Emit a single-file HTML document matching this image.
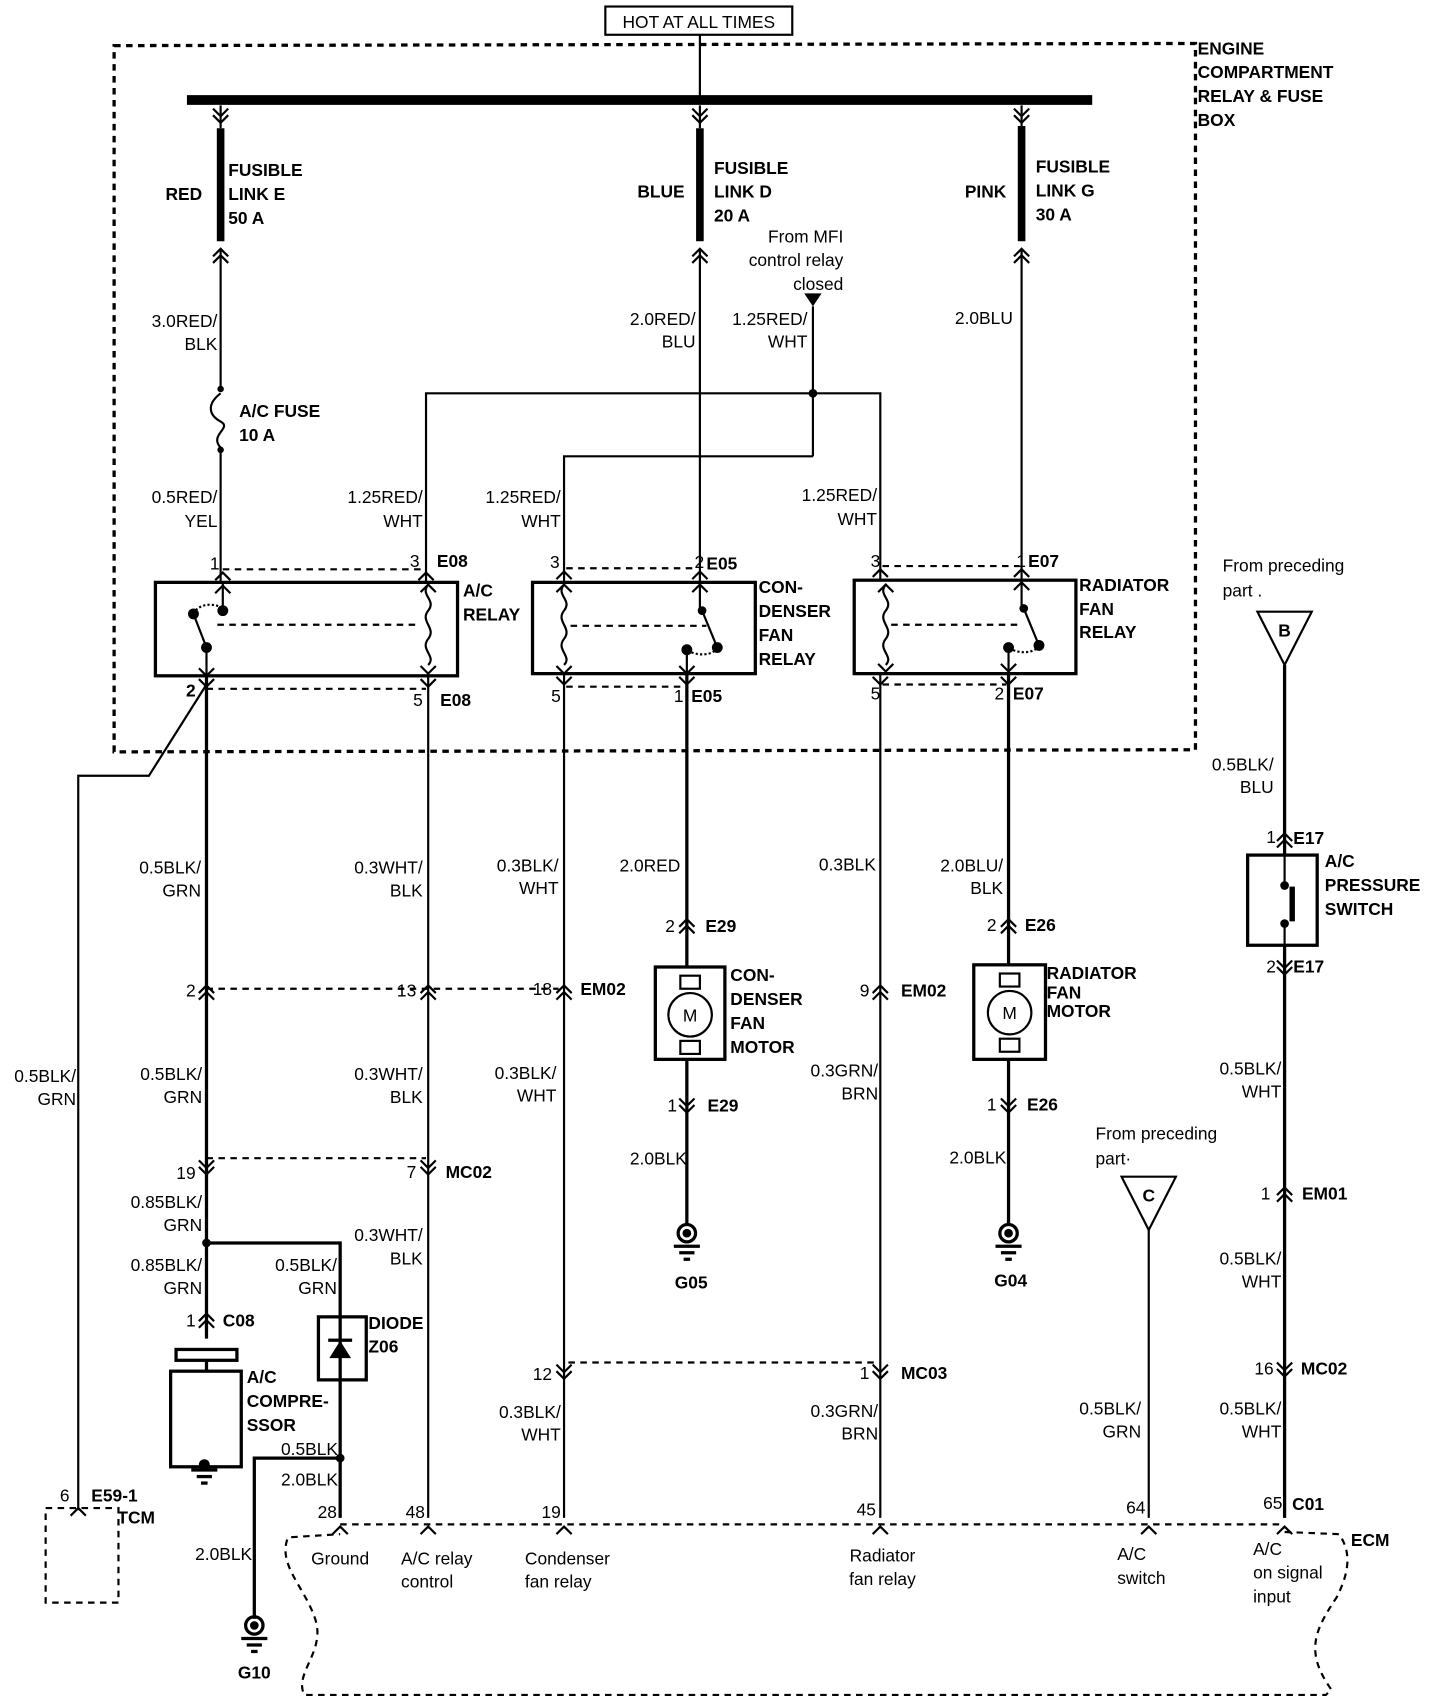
<!DOCTYPE html>
<html><head><meta charset="utf-8"><style>
html,body{margin:0;padding:0;background:#fff;}
svg{display:block;}
text{font-family:"Liberation Sans",sans-serif;font-size:16px;fill:#000;}
.b{font-weight:bold;}
.r{text-anchor:end;}
.m{text-anchor:middle;}
</style></head><body>
<svg width="1440" height="1708" viewBox="0 0 1325 1572" preserveAspectRatio="none" xmlns="http://www.w3.org/2000/svg">
<g fill="none" stroke="#000" stroke-width="2">
<!-- HOT box -->
<rect x="557" y="6" width="172" height="26"/>
<line x1="644" y1="32" x2="644" y2="92"/>
<!-- engine box dashed -->
<path d="M105 42 L1100 40 L1100 690 L105 692 Z" stroke-dasharray="6,5" stroke-width="3"/>
<!-- bus -->
<line x1="172" y1="92" x2="1005" y2="92" stroke-width="9"/>
<!-- fusible links -->
<line x1="203" y1="118" x2="203" y2="222" stroke-width="7"/>
<line x1="644" y1="118" x2="644" y2="222" stroke-width="7"/>
<line x1="940" y1="116" x2="940" y2="222" stroke-width="7"/>
<line x1="203" y1="97" x2="203" y2="118"/><line x1="644" y1="97" x2="644" y2="118"/><line x1="940" y1="97" x2="940" y2="116"/>
<path d="M196 100 L203 107 L210 100 M196 106 L203 113 L210 106"/>
<path d="M637 100 L644 107 L651 100 M637 106 L644 113 L651 106"/>
<path d="M933 100 L940 107 L947 100 M933 106 L940 113 L947 106"/>
<path d="M196 236 L203 229 L210 236 M196 242 L203 235 L210 242"/>
<path d="M637 236 L644 229 L651 236 M637 242 L644 235 L651 242"/>
<path d="M933 236 L940 229 L947 236 M933 242 L940 235 L947 242"/>
<!-- wires top -->
<line x1="203" y1="229" x2="203" y2="358"/>
<path d="M203 362 C190 372 192 382 203 388 C214 394 192 400 203 412" />
<line x1="203" y1="412" x2="203" y2="536"/>
<line x1="644" y1="229" x2="644" y2="536"/>
<line x1="940" y1="229" x2="940" y2="534"/>
<line x1="748" y1="282" x2="748" y2="420"/>
<path d="M392 536 L392 362 L810 362 L810 534"/>
<path d="M748 420 L519 420 L519 536"/>
<!-- relays -->
<rect x="143" y="536" width="278" height="86" stroke-width="3"/>
<rect x="490" y="536" width="205" height="84" stroke-width="3"/>
<rect x="786" y="534" width="204" height="86" stroke-width="3"/>
<g stroke-dasharray="6,5">
<line x1="205" y1="524" x2="390" y2="524"/><line x1="190" y1="634" x2="392" y2="634"/>
<line x1="521" y1="523" x2="642" y2="523"/><line x1="521" y1="632" x2="630" y2="632"/>
<line x1="812" y1="521" x2="938" y2="521"/><line x1="812" y1="630" x2="926" y2="630"/>
<line x1="200" y1="575" x2="385" y2="575"/>
<line x1="525" y1="576" x2="650" y2="576"/>
<line x1="820" y1="575" x2="940" y2="575"/>
<line x1="190" y1="910" x2="514" y2="910"/>
<line x1="190" y1="1066" x2="392" y2="1066"/>
<line x1="523" y1="1254" x2="806" y2="1254"/>
<line x1="313" y1="1403" x2="1182" y2="1403"/>
<path d="M1182 1410 L1232 1412 C1245 1430 1240 1450 1230 1470 C1210 1500 1200 1520 1225 1555 L1220 1560 L280 1560 C270 1540 300 1520 290 1490 C280 1460 255 1440 265 1415 L313 1412"/>
<rect x="42" y="1388" width="67" height="87"/>
</g>
<!-- AC relay internals -->
<line x1="205" y1="536" x2="205" y2="560"/>
<path d="M198 546 L205 539 L212 546"/>
<path d="M178 565 C182 556 196 554 205 560" stroke-dasharray="2,2"/>
<line x1="178" y1="565" x2="190" y2="596"/>
<line x1="190" y1="596" x2="190" y2="622"/>
<path d="M183 615 L190 622 L197 615"/>
<path d="M394 538 C386 548 402 552 394 562 C386 572 402 578 394 588 C386 598 402 604 394 612"/>
<path d="M387 545 L394 538 L401 545 M387 613 L394 620 L401 613"/>
<!-- condenser relay internals -->
<path d="M519 538 C511 548 527 552 519 562 C511 572 527 578 519 588 C511 598 527 604 519 612"/>
<path d="M512 545 L519 538 L526 545 M512 613 L519 620 L526 613"/>
<line x1="644" y1="538" x2="644" y2="562"/><path d="M637 545 L644 538 L651 545"/>
<line x1="646" y1="562" x2="660" y2="596"/>
<path d="M660 596 C656 604 640 604 632 598" stroke-dasharray="2,2"/>
<line x1="632" y1="598" x2="632" y2="620"/><path d="M625 613 L632 620 L639 613"/>
<!-- radiator relay internals -->
<path d="M815 538 C807 548 823 552 815 562 C807 572 823 578 815 588 C807 598 823 604 815 612"/>
<path d="M808 545 L815 538 L822 545 M808 611 L815 618 L822 611"/>
<line x1="940" y1="536" x2="940" y2="560"/><path d="M933 543 L940 536 L947 543"/>
<line x1="942" y1="560" x2="956" y2="594"/>
<path d="M956 594 C952 602 936 602 928 596" stroke-dasharray="2,2"/>
<line x1="928" y1="596" x2="928" y2="618"/><path d="M921 611 L928 618 L935 611"/>
<!-- top relay pin chevrons -->
<path d="M198 534 L205 527 L212 534 M385 534 L392 527 L399 534 M512 533 L519 526 L526 533 M637 533 L644 526 L651 533 M803 531 L810 524 L817 531 M933 531 L940 524 L947 531"/>
<path d="M183 625 L190 632 L197 625 M387 625 L394 632 L401 625 M512 623 L519 630 L526 623 M625 623 L632 630 L639 623 M803 623 L810 630 L817 623 M921 623 L928 630 L935 623"/>
<!-- lower wires -->
<path d="M190 630 L137 714 L72 714 L72 1390"/>
<path d="M65 1395 L72 1388 L79 1395"/>
<line x1="190" y1="622" x2="190" y2="1232" stroke-width="3"/>
<line x1="394" y1="622" x2="394" y2="1397"/>
<line x1="519" y1="620" x2="519" y2="1397"/>
<line x1="632" y1="620" x2="632" y2="890" stroke-width="3"/>
<line x1="810" y1="620" x2="810" y2="1397"/>
<line x1="928" y1="620" x2="928" y2="888" stroke-width="3"/>
<path d="M190 1144 L313 1144 L313 1397" stroke-width="3"/>
<path d="M313 1342 L234 1342 L234 1490" stroke-width="3"/>
<!-- connector chevrons (double) -->
<path d="M183 914 L190 907 L197 914 M183 920 L190 913 L197 920"/>
<path d="M387 914 L394 907 L401 914 M387 920 L394 913 L401 920"/>
<path d="M512 914 L519 907 L526 914 M512 920 L519 913 L526 920"/>
<path d="M803 914 L810 907 L817 914 M803 920 L810 913 L817 920"/>
<path d="M183 1068 L190 1075 L197 1068 M183 1074 L190 1081 L197 1074"/>
<path d="M387 1068 L394 1075 L401 1068 M387 1074 L394 1081 L401 1074"/>
<path d="M512 1256 L519 1263 L526 1256 M512 1262 L519 1269 L526 1262"/>
<path d="M803 1256 L810 1263 L817 1256 M803 1262 L810 1269 L817 1262"/>
<path d="M183 1216 L190 1209 L197 1216 M183 1222 L190 1215 L197 1222"/>
<path d="M625 853 L632 846 L639 853 M625 859 L632 852 L639 859"/>
<path d="M921 853 L928 846 L935 853 M921 859 L928 852 L935 859"/>
<path d="M625 1011 L632 1018 L639 1011 M625 1017 L632 1024 L639 1017"/>
<path d="M921 1011 L928 1018 L935 1011 M921 1017 L928 1024 L935 1017"/>
<path d="M1175 774 L1182 767 L1189 774 M1175 780 L1182 773 L1189 780"/>
<path d="M1175 884 L1182 891 L1189 884 M1175 890 L1182 897 L1189 890"/>
<path d="M1175 1100 L1182 1093 L1189 1100 M1175 1106 L1182 1099 L1189 1106"/>
<path d="M1175 1254 L1182 1261 L1189 1254 M1175 1260 L1182 1267 L1189 1260"/>
<!-- ECM pins -->
<path d="M306 1412 L313 1405 L320 1412 M387 1412 L394 1405 L401 1412 M512 1412 L519 1405 L526 1412 M803 1412 L810 1405 L817 1412 M1050 1412 L1057 1405 L1064 1412 M1175 1412 L1182 1405 L1189 1412"/>
<!-- motors -->
<rect x="603" y="890" width="64" height="85" stroke-width="3"/>
<circle cx="635" cy="934" r="20"/><rect x="626" y="898" width="18" height="12"/><rect x="626" y="958" width="18" height="12"/>
<rect x="896" y="888" width="66" height="87" stroke-width="3"/>
<circle cx="929" cy="932" r="20"/><rect x="920" y="896" width="18" height="12"/><rect x="920" y="956" width="18" height="12"/>
<line x1="632" y1="975" x2="632" y2="1128" stroke-width="3"/>
<line x1="928" y1="975" x2="928" y2="1128" stroke-width="3"/>
<!-- B/C -->
<path d="M1157 563 L1207 563 L1182 612 Z"/>
<line x1="1182" y1="612" x2="1182" y2="1397" stroke-width="3"/>
<path d="M1032 1083 L1082 1083 L1057 1132 Z"/>
<line x1="1057" y1="1132" x2="1057" y2="1397"/>
<rect x="1148" y="787" width="64" height="83" fill="#fff" stroke-width="3"/>
<line x1="1182" y1="780" x2="1182" y2="812"/><line x1="1182" y1="850" x2="1182" y2="884"/>
<line x1="1189" y1="816" x2="1189" y2="848" stroke-width="5"/>
<!-- compressor -->
<rect x="162" y="1242" width="56" height="10" stroke-width="3"/>
<line x1="190" y1="1252" x2="190" y2="1262" stroke-width="3"/>
<rect x="157" y="1262" width="65" height="88" stroke-width="3"/>
<!-- diode -->
<rect x="293" y="1212" width="44" height="58" stroke-width="3"/>
</g>
<g fill="#000">
<circle cx="203" cy="358" r="3"/><circle cx="203" cy="414" r="3"/>
<circle cx="748" cy="362" r="4"/>
<path d="M740 270 L756 270 L748 282 Z"/>
<circle cx="178" cy="565" r="5"/><circle cx="205" cy="562" r="5"/><circle cx="190" cy="596" r="5"/>
<circle cx="646" cy="562" r="4"/><circle cx="632" cy="598" r="5"/><circle cx="660" cy="596" r="5"/>
<circle cx="942" cy="560" r="4"/><circle cx="928" cy="596" r="5"/><circle cx="956" cy="594" r="5"/>
<circle cx="1182" cy="815" r="4"/><circle cx="1182" cy="850" r="4"/>
<circle cx="190" cy="1144" r="4"/><circle cx="313" cy="1342" r="4"/>
<path d="M303 1250 L323 1250 L313 1234 Z"/><rect x="302" y="1232" width="22" height="3"/>
</g>
<!-- grounds -->
<g fill="none" stroke="#000" stroke-width="3">
<circle cx="632" cy="1135" r="8"/><circle cx="928" cy="1135" r="8"/><circle cx="234" cy="1496" r="8"/>
<line x1="620" y1="1147" x2="644" y2="1147"/><line x1="625" y1="1153" x2="639" y2="1153"/><line x1="629" y1="1159" x2="635" y2="1159"/>
<line x1="916" y1="1147" x2="940" y2="1147"/><line x1="921" y1="1153" x2="935" y2="1153"/><line x1="925" y1="1159" x2="931" y2="1159"/>
<line x1="222" y1="1508" x2="246" y2="1508"/><line x1="227" y1="1514" x2="241" y2="1514"/><line x1="231" y1="1520" x2="237" y2="1520"/>
<line x1="176" y1="1353" x2="200" y2="1353"/><line x1="181" y1="1359" x2="195" y2="1359"/><line x1="185" y1="1365" x2="191" y2="1365"/>
</g>
<g fill="#000"><circle cx="632" cy="1135" r="4"/><circle cx="928" cy="1135" r="4"/><circle cx="234" cy="1496" r="4"/><circle cx="188" cy="1348" r="5"/></g>
<text x="643" y="26" class="m">HOT AT ALL TIMES</text>
<text x="1102" y="50" class="b">ENGINE</text><text x="1102" y="72" class="b">COMPARTMENT</text><text x="1102" y="94" class="b">RELAY &amp; FUSE</text><text x="1102" y="116" class="b">BOX</text>
<text x="186" y="184" class="b r">RED</text>
<text x="210" y="162" class="b">FUSIBLE</text><text x="210" y="184" class="b">LINK E</text><text x="210" y="206" class="b">50 A</text>
<text x="630" y="182" class="b r">BLUE</text>
<text x="657" y="160" class="b">FUSIBLE</text><text x="657" y="182" class="b">LINK D</text><text x="657" y="204" class="b">20 A</text>
<text x="926" y="182" class="b r">PINK</text>
<text x="953" y="159" class="b">FUSIBLE</text><text x="953" y="181" class="b">LINK G</text><text x="953" y="203" class="b">30 A</text>
<text x="776" y="223" class="r">From MFI</text><text x="776" y="245" class="r">control relay</text><text x="776" y="267" class="r">closed</text>
<text x="200" y="301" class="r">3.0RED/</text><text x="200" y="322" class="r">BLK</text>
<text x="640" y="299" class="r">2.0RED/</text><text x="640" y="320" class="r">BLU</text>
<text x="743" y="299" class="r">1.25RED/</text><text x="743" y="320" class="r">WHT</text>
<text x="932" y="298" class="r">2.0BLU</text>
<text x="220" y="384" class="b">A/C FUSE</text><text x="220" y="406" class="b">10 A</text>
<text x="200" y="463" class="r">0.5RED/</text><text x="200" y="485" class="r">YEL</text>
<text x="389" y="463" class="r">1.25RED/</text><text x="389" y="485" class="r">WHT</text>
<text x="516" y="463" class="r">1.25RED/</text><text x="516" y="485" class="r">WHT</text>
<text x="807" y="461" class="r">1.25RED/</text><text x="807" y="483" class="r">WHT</text>
<text x="202" y="524" class="r">1</text><text x="386" y="522" class="r">3</text><text x="402" y="522" class="b">E08</text>
<text x="426" y="549" class="b">A/C</text><text x="426" y="571" class="b">RELAY</text>
<text x="515" y="523" class="r">3</text><text x="648" y="523" class="r">2</text><text x="650" y="524" class="b">E05</text>
<text x="698" y="546" class="b">CON-</text><text x="698" y="568" class="b">DENSER</text><text x="698" y="590" class="b">FAN</text><text x="698" y="612" class="b">RELAY</text>
<text x="810" y="522" class="r">3</text><text x="944" y="522" class="r">1</text><text x="946" y="522" class="b">E07</text>
<text x="993" y="544" class="b">RADIATOR</text><text x="993" y="566" class="b">FAN</text><text x="993" y="587" class="b">RELAY</text>
<text x="180" y="641" class="b r">2</text><text x="389" y="650" class="r">5</text><text x="405" y="650" class="b">E08</text>
<text x="516" y="646" class="r">5</text><text x="629" y="646" class="r">1</text><text x="636" y="646" class="b">E05</text>
<text x="810" y="644" class="r">5</text><text x="924" y="644" class="r">2</text><text x="932" y="644" class="b">E07</text>
<text x="1125" y="526">From preceding</text><text x="1125" y="549">part .</text>
<text x="1182" y="586" class="b m" font-size="14">B</text>
<text x="1057" y="1106" class="b m" font-size="14">C</text>
<text x="1172" y="709" class="r">0.5BLK/</text><text x="1172" y="730" class="r">BLU</text>
<text x="1174" y="776" class="r">1</text><text x="1190" y="777" class="b">E17</text>
<text x="1219" y="798" class="b">A/C</text><text x="1219" y="820" class="b">PRESSURE</text><text x="1219" y="842" class="b">SWITCH</text>
<text x="1174" y="895" class="r">2</text><text x="1190" y="895" class="b">E17</text>
<text x="185" y="804" class="r">0.5BLK/</text><text x="185" y="825" class="r">GRN</text>
<text x="389" y="804" class="r">0.3WHT/</text><text x="389" y="825" class="r">BLK</text>
<text x="514" y="802" class="r">0.3BLK/</text><text x="514" y="823" class="r">WHT</text>
<text x="626" y="802" class="r">2.0RED</text>
<text x="806" y="801" class="r">0.3BLK</text>
<text x="923" y="802" class="r">2.0BLU/</text><text x="923" y="823" class="r">BLK</text>
<text x="621" y="858" class="r">2</text><text x="649" y="858" class="b">E29</text>
<text x="917" y="857" class="r">2</text><text x="943" y="857" class="b">E26</text>
<text x="180" y="917" class="r">2</text><text x="383" y="917" class="r">13</text><text x="508" y="916" class="r">18</text><text x="534" y="916" class="b">EM02</text>
<text x="800" y="917" class="r">9</text><text x="829" y="917" class="b">EM02</text>
<text x="672" y="903" class="b">CON-</text><text x="672" y="925" class="b">DENSER</text><text x="672" y="947" class="b">FAN</text><text x="672" y="969" class="b">MOTOR</text>
<text x="635" y="940" class="m" font-size="13">M</text><text x="929" y="938" class="m" font-size="13">M</text>
<text x="963" y="901" class="b">RADIATOR</text><text x="963" y="919" class="b">FAN</text><text x="963" y="936" class="b">MOTOR</text>
<text x="70" y="996" class="r">0.5BLK/</text><text x="70" y="1017" class="r">GRN</text>
<text x="186" y="994" class="r">0.5BLK/</text><text x="186" y="1015" class="r">GRN</text>
<text x="389" y="994" class="r">0.3WHT/</text><text x="389" y="1015" class="r">BLK</text>
<text x="512" y="993" class="r">0.3BLK/</text><text x="512" y="1014" class="r">WHT</text>
<text x="808" y="991" class="r">0.3GRN/</text><text x="808" y="1012" class="r">BRN</text>
<text x="1179" y="989" class="r">0.5BLK/</text><text x="1179" y="1010" class="r">WHT</text>
<text x="623" y="1023" class="r">1</text><text x="651" y="1023" class="b">E29</text>
<text x="917" y="1022" class="r">1</text><text x="945" y="1022" class="b">E26</text>
<text x="1008" y="1049">From preceding</text><text x="1008" y="1072">part·</text>
<text x="632" y="1072" class="r">2.0BLK</text><text x="926" y="1071" class="r">2.0BLK</text>
<text x="180" y="1085" class="r">19</text><text x="383" y="1084" class="r">7</text><text x="410" y="1084" class="b">MC02</text>
<text x="1169" y="1104" class="r">1</text><text x="1198" y="1104" class="b">EM01</text>
<text x="186" y="1112" class="r">0.85BLK/</text><text x="186" y="1133" class="r">GRN</text>
<text x="389" y="1142" class="r">0.3WHT/</text><text x="389" y="1164" class="r">BLK</text>
<text x="186" y="1170" class="r">0.85BLK/</text><text x="186" y="1191" class="r">GRN</text>
<text x="310" y="1170" class="r">0.5BLK/</text><text x="310" y="1191" class="r">GRN</text>
<text x="1179" y="1164" class="r">0.5BLK/</text><text x="1179" y="1185" class="r">WHT</text>
<text x="180" y="1221" class="r">1</text><text x="205" y="1221" class="b">C08</text>
<text x="339" y="1223" class="b">DIODE</text><text x="339" y="1245" class="b">Z06</text>
<text x="227" y="1273" class="b">A/C</text><text x="227" y="1295" class="b">COMPRE-</text><text x="227" y="1317" class="b">SSOR</text>
<text x="508" y="1270" class="r">12</text><text x="800" y="1269" class="r">1</text><text x="829" y="1269" class="b">MC03</text>
<text x="1172" y="1265" class="r">16</text><text x="1197" y="1265" class="b">MC02</text>
<text x="516" y="1305" class="r">0.3BLK/</text><text x="516" y="1326" class="r">WHT</text>
<text x="808" y="1304" class="r">0.3GRN/</text><text x="808" y="1325" class="r">BRN</text>
<text x="1050" y="1302" class="r">0.5BLK/</text><text x="1050" y="1323" class="r">GRN</text>
<text x="1179" y="1302" class="r">0.5BLK/</text><text x="1179" y="1323" class="r">WHT</text>
<text x="311" y="1339" class="r">0.5BLK</text><text x="311" y="1367" class="r">2.0BLK</text>
<text x="64" y="1382" class="r">6</text><text x="84" y="1382" class="b">E59-1</text><text x="108" y="1402" class="b">TCM</text>
<text x="310" y="1397" class="r">28</text><text x="391" y="1397" class="r">48</text><text x="516" y="1397" class="r">19</text><text x="806" y="1395" class="r">45</text><text x="1054" y="1393" class="r">64</text><text x="1180" y="1389" class="r">65</text><text x="1189" y="1390" class="b">C01</text>
<text x="1243" y="1423" class="b">ECM</text>
<text x="232" y="1436" class="r">2.0BLK</text>
<text x="313" y="1440" class="m">Ground</text>
<text x="369" y="1440">A/C relay</text><text x="369" y="1461">control</text>
<text x="483" y="1440">Condenser</text><text x="483" y="1461">fan relay</text>
<text x="812" y="1437" class="m">Radiator</text><text x="812" y="1459" class="m">fan relay</text>
<text x="1028" y="1436">A/C</text><text x="1028" y="1458">switch</text>
<text x="1153" y="1431">A/C</text><text x="1153" y="1453">on signal</text><text x="1153" y="1475">input</text>
<text x="234" y="1545" class="b m">G10</text>
<text x="636" y="1186" class="b m">G05</text><text x="930" y="1184" class="b m">G04</text>
</svg>
</body></html>
